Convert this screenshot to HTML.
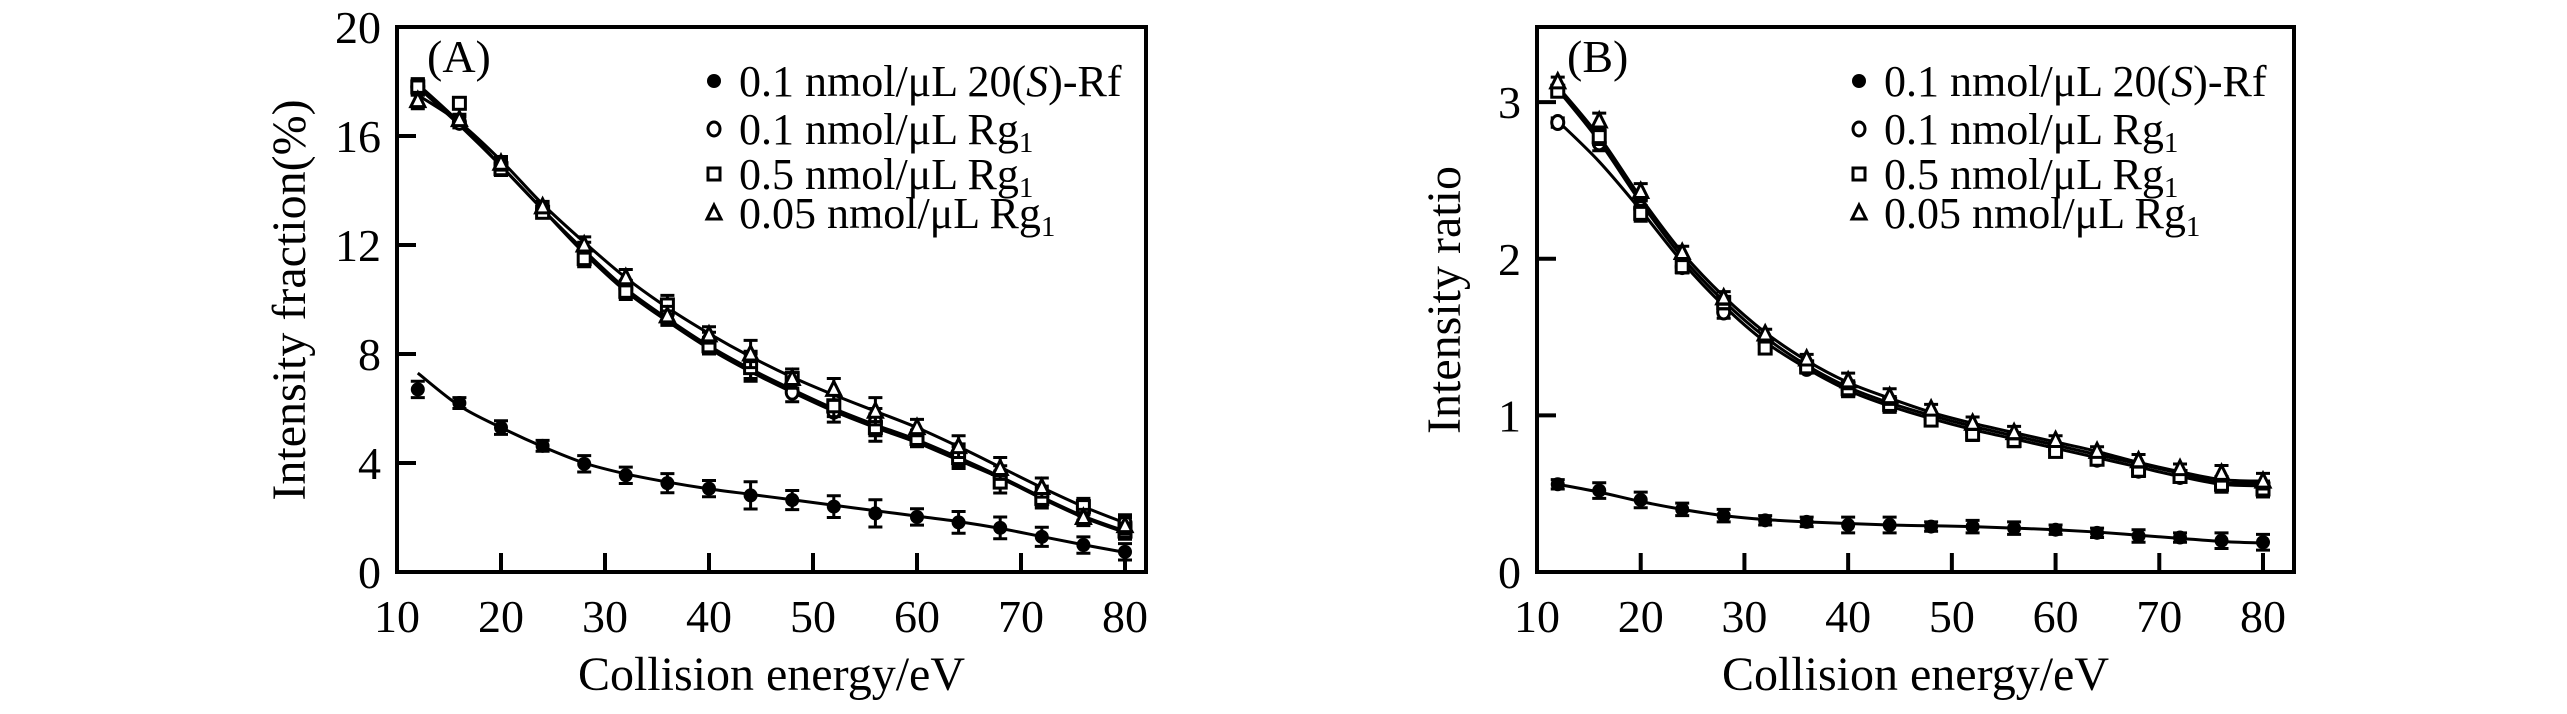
<!DOCTYPE html>
<html><head><meta charset="utf-8"><style>
html,body{margin:0;padding:0;background:#fff}
svg, svg text{font-family:"Liberation Serif","DejaVu Serif","Times New Roman",serif}
</style></head><body>
<svg id="fig" width="2567" height="709" viewBox="0 0 2567 709" xmlns="http://www.w3.org/2000/svg" font-family="Liberation Serif, DejaVu Serif, serif"></svg>
<script>
const xVals=[12,16,20,24,28,32,36,40,44,48,52,56,60,64,68,72,76,80];
const xTicks=[10,20,30,40,50,60,70,80];
const yTicksA=[0,4,8,12,16,20];
const yTicksB=[0,1,2,3];
const legendLabels=["0.1 nmol/\u03bcL 20(S)-Rf","0.1 nmol/\u03bcL Rg1","0.5 nmol/\u03bcL Rg1","0.05 nmol/\u03bcL Rg1"];
// Panel A values
const aRf=[6.7,6.2,5.3,4.63,3.97,3.55,3.26,3.06,2.81,2.64,2.40,2.15,2.02,1.82,1.62,1.29,0.99,0.74];
const aRg01=[17.8,16.5,14.9,13.3,11.8,10.4,9.5,8.5,7.6,6.6,5.9,5.5,4.9,4.3,3.5,2.8,2.2,1.8];
const aRg05=[17.8,17.2,14.8,13.2,11.5,10.3,9.8,8.3,7.5,7.1,6.1,5.3,4.9,4.2,3.3,2.7,2.4,1.5];
const aRg005=[17.3,16.6,15.0,13.4,12.0,10.8,9.4,8.7,8.0,7.1,6.7,5.9,5.3,4.6,3.8,3.1,2.0,1.7];
const aErr=[0.3,0.2,0.25,0.2,0.3,0.3,0.35,0.3,0.5,0.35,0.4,0.5,0.3,0.4,0.4,0.35,0.3,0.3];
const aFitRf=[7.3,6.1,5.3,4.6,4.0,3.6,3.3,3.05,2.85,2.65,2.45,2.25,2.05,1.85,1.6,1.3,1.0,0.72];
const aFitRg01=[17.9,16.5,14.9,13.3,11.8,10.4,9.3,8.3,7.45,6.7,6.0,5.4,4.85,4.2,3.5,2.75,2.05,1.5];
const aFitRg05=[17.8,16.4,14.9,13.3,11.7,10.3,9.2,8.2,7.35,6.6,5.9,5.3,4.75,4.1,3.45,2.7,2.0,1.45];
const aFitRg005=[17.5,16.5,15.1,13.5,12.1,10.8,9.7,8.75,7.9,7.15,6.5,5.9,5.3,4.6,3.85,3.1,2.4,1.8];
// Panel B values
const bRf=[0.56,0.52,0.46,0.40,0.36,0.33,0.32,0.30,0.30,0.29,0.29,0.28,0.27,0.25,0.23,0.22,0.20,0.19];
const bRg01=[2.87,2.74,2.32,1.95,1.66,1.46,1.30,1.17,1.07,0.98,0.90,0.85,0.78,0.72,0.65,0.61,0.56,0.53];
const bRg05=[3.07,2.78,2.29,1.95,1.72,1.43,1.31,1.17,1.07,0.97,0.88,0.84,0.77,0.72,0.65,0.61,0.56,0.53];
const bRg005=[3.13,2.88,2.43,2.04,1.75,1.52,1.36,1.22,1.12,1.04,0.95,0.89,0.84,0.77,0.71,0.66,0.63,0.58];
const bErr=[0.03,0.05,0.05,0.04,0.04,0.03,0.03,0.05,0.05,0.03,0.04,0.04,0.03,0.03,0.04,0.03,0.05,0.05];
const bFitRf=[0.56,0.51,0.45,0.40,0.36,0.335,0.32,0.31,0.30,0.295,0.29,0.28,0.27,0.255,0.235,0.215,0.195,0.185];
const bFitRg01=[2.88,2.62,2.31,1.98,1.70,1.47,1.30,1.16,1.06,0.98,0.91,0.85,0.79,0.73,0.67,0.61,0.56,0.55];
const bFitRg05=[3.08,2.75,2.36,2.01,1.73,1.50,1.32,1.18,1.08,1.00,0.93,0.87,0.81,0.75,0.69,0.63,0.57,0.57];
const bFitRg005=[3.10,2.78,2.39,2.04,1.76,1.53,1.35,1.21,1.11,1.02,0.95,0.89,0.83,0.77,0.70,0.64,0.59,0.58];

const NS="http://www.w3.org/2000/svg";
const FF="Liberation Serif, DejaVu Serif, serif";
const svg=document.getElementById('fig');
function mk(tag,attrs,parent){const e=document.createElementNS(NS,tag);for(const k in attrs)e.setAttribute(k,attrs[k]);if(tag==='text')e.setAttribute('font-family',FF);(parent||svg).appendChild(e);return e;}

function panel(cfg){
  const g=mk('g',{});
  
  
  const L=cfg.left,R=cfg.right,T=27,B=572;
  const xs=v=>L+(v-10)*(cfg.x80-L)/70;
  const ys=v=>B-v*(B-T)/cfg.ymax;
  xTicks.forEach(t=>{
    if(t>10){const tk=mk('line',{x1:xs(t),x2:xs(t),y1:B,y2:B-19,stroke:'#000','stroke-width':4},g);
    
    }
    const tl=mk('text',{x:xs(t),y:B+60,'font-size':46,'text-anchor':'middle'},g);tl.textContent=t;
    
    
  });
  cfg.yticks.forEach(t=>{
    if(t>0&&ys(t)>T+2){const tk=mk('line',{x1:L,x2:L+19,y1:ys(t),y2:ys(t),stroke:'#000','stroke-width':4},g);
    
    }
    const tl=mk('text',{x:L-16,y:ys(t)+16,'font-size':46,'text-anchor':'end'},g);tl.textContent=t;
    
    
  });
  const frame=mk('rect',{x:L,y:T,width:R-L,height:B-T,fill:'none',stroke:'#000','stroke-width':4},g);
  
  
  cfg.fits.forEach(f=>{
    const pts=xVals.map((x,i)=>[xs(x),ys(f[i])]);
    let d='M'+pts[0][0]+','+pts[0][1];
    for(let i=0;i<pts.length-1;i++){
      const p0=pts[Math.max(0,i-1)],p1=pts[i],p2=pts[i+1],p3=pts[Math.min(pts.length-1,i+2)];
      const c1=[p1[0]+(p2[0]-p0[0])/6,p1[1]+(p2[1]-p0[1])/6],c2=[p2[0]-(p3[0]-p1[0])/6,p2[1]-(p3[1]-p1[1])/6];
      d+=' C'+c1+' '+c2+' '+p2;
    }
    const p=mk('path',{d:d,fill:'none',stroke:'#000','stroke-width':3},g);
    
    
  });
  const kinds=['dot','circle','square','tri'];
  cfg.series.forEach((s,si)=>{
    xVals.forEach((x,i)=>{
      const cx=xs(x),cy=ys(s[i]);
      const eb=mk('path',{d:`M${cx},${ys(s[i]+cfg.err[i])}V${ys(s[i]-cfg.err[i])}M${cx-7},${ys(s[i]+cfg.err[i])}h14M${cx-7},${ys(s[i]-cfg.err[i])}h14`,stroke:'#000','stroke-width':3,fill:'none'},g);
      
      
      const m=marker(kinds[si],cx,cy,g);
      
      
    });
  });
  const ly=[81,129,174,213];
  legendLabels.forEach((lab,i)=>{
    const m=marker(kinds[i],cfg.legX,ly[i],g);
    
    
    const t=mk('text',{x:cfg.legX+25,y:ly[i]+15,'font-size':44},g);
    
    
    if(i===0){t.innerHTML='0.1 nmol/\u03bcL 20(<tspan font-style="italic">S</tspan>)-Rf';}
    else{t.innerHTML=lab.slice(0,-1)+'<tspan font-size="29" dy="8">1</tspan>';}
  });
  const pl=mk('text',{x:L+30,y:72,'font-size':46},g);pl.textContent=cfg.label;
  
  
  const xt=mk('text',{x:(L+R)/2,y:690,'font-size':48,'text-anchor':'middle'},g);xt.textContent='Collision energy/eV';
  
  
  const yt=mk('text',{x:0,y:0,'font-size':48,'text-anchor':'middle',transform:`translate(${cfg.ytX},300) rotate(-90)`},g);yt.textContent=cfg.ytitle;
  
  
}
function marker(k,cx,cy,g){
  if(k==='dot')return mk('circle',{cx:cx,cy:cy,r:7,fill:'#000'},g);
  if(k==='circle')return mk('ellipse',{cx:cx,cy:cy,rx:6,ry:7,fill:'#fff',stroke:'#000','stroke-width':3},g);
  if(k==='square')return mk('rect',{x:cx-6,y:cy-6,width:12,height:12,fill:'#fff',stroke:'#000','stroke-width':3},g);
  return mk('path',{d:`M${cx},${cy-8}L${cx+7},${cy+6}L${cx-7},${cy+6}Z`,fill:'#fff',stroke:'#000','stroke-width':3},g);
}
panel({name:'panel-a',left:397,right:1146,x80:1125,ymax:20,yticks:yTicksA,label:'(A)',legX:714,ytX:305,ytitle:'Intensity fraction(%)',
  series:[aRf,aRg01,aRg05,aRg005],err:aErr,fits:[aFitRf,aFitRg01,aFitRg05,aFitRg005]});
panel({name:'panel-b',left:1537,right:2294,x80:2263,ymax:3.48,yticks:yTicksB,label:'(B)',legX:1859,ytX:1460,ytitle:'Intensity ratio',
  series:[bRf,bRg01,bRg05,bRg005],err:bErr,fits:[bFitRf,bFitRg01,bFitRg05,bFitRg005]});
</script>
</body></html>
